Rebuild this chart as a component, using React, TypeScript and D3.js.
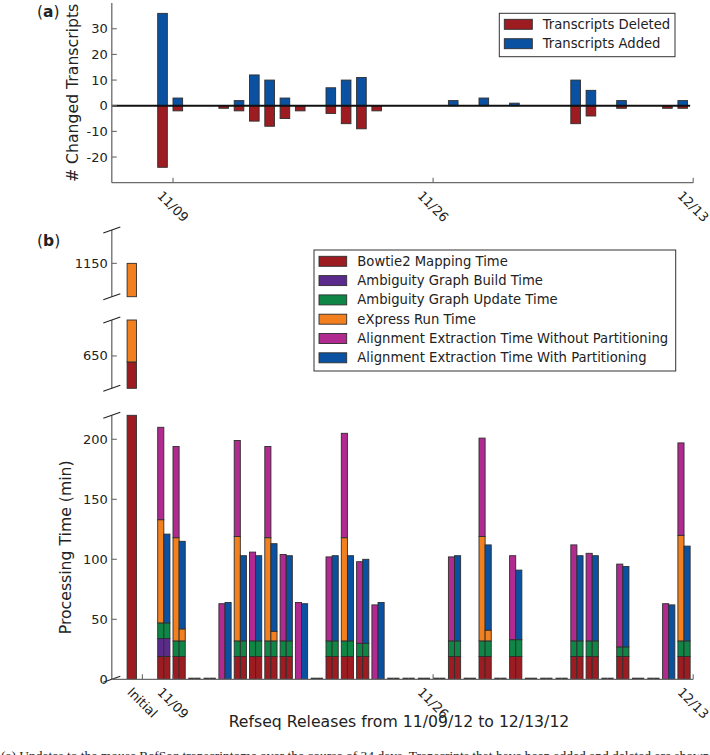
import React, { useEffect, useRef } from "react";
import * as d3 from "d3";

const W = 710;
const H = 755;

// Panel (a): release index -> changed transcripts
const transcriptsDeleted = [-24, -2, 0, 0, -1, -2, -6, -8, -5, -2, 0, -3, -7, -9, -2, 0, 0, 0, 0, 0, 0, 0, 0, 0, 0, 0, 0, -7, -4, 0, -1, 0, 0, -1, -1];
const transcriptsAdded = [36, 3, 0, 0, 0, 2, 12, 10, 3, 0, 0, 7, 10, 11, 0, 0, 0, 0, 0, 2, 0, 3, 0, 1, 0, 0, 0, 10, 6, 0, 2, 0, 0, 0, 2];

// Panel (b): processing times (min) per release
const bowtieTime = [19, 19, 0, 0, 0, 19, 19, 19, 19, 0, 0, 19, 19, 19, 0, 0, 0, 0, 0, 19, 0, 19, 0, 19, 0, 0, 0, 19, 19, 0, 19, 0, 0, 0, 19];
const buildTime = [15, 0, 0, 0, 0, 0, 0, 0, 0, 0, 0, 0, 0, 0, 0, 0, 0, 0, 0, 0, 0, 0, 0, 0, 0, 0, 0, 0, 0, 0, 0, 0, 0, 0, 0];
const updateTime = [13, 13, 0, 0, 0, 13, 13, 13, 13, 0, 0, 13, 13, 11, 0, 0, 0, 0, 0, 13, 0, 13, 0, 14, 0, 0, 0, 13, 13, 0, 8, 0, 0, 0, 13];
const expressNoPart = [86, 86, 0, 0, 0, 87, 0, 86, 0, 0, 0, 0, 86, 0, 0, 0, 0, 0, 0, 0, 0, 87, 0, 0, 0, 0, 0, 0, 0, 0, 0, 0, 0, 0, 88];
const expressPart = [0, 10, 0, 0, 0, 0, 0, 8, 0, 0, 0, 0, 0, 0, 0, 0, 0, 0, 0, 0, 0, 9, 0, 0, 0, 0, 0, 0, 0, 0, 0, 0, 0, 0, 0];
const extractNoPart = [77, 76, 0, 0, 63, 80, 74, 76, 72, 64, 0, 70, 87, 68, 62, 0, 0, 0, 0, 70, 0, 82, 0, 70, 0, 0, 0, 80, 73, 0, 69, 0, 0, 63, 77];
const extractPart = [74, 73, 0, 0, 64, 71, 71, 73, 71, 63, 0, 71, 71, 70, 64, 0, 0, 0, 0, 71, 0, 71, 0, 58, 0, 0, 0, 71, 71, 0, 67, 0, 0, 62, 79];

const initialBowtie = 645;
const initialExpress = 505;
const initialPos = -2;

const xTicksA = [1, 18, 35];
const xTickLabelsA = ["11/09", "11/26", "12/13"];
const xTicksB = [-1, 1, 18, 35];
const xTickLabelsB = ["Initial", "11/09", "11/26", "12/13"];
const yTicksA = [-20, -10, 0, 10, 20, 30];
const yTicksB0 = [0, 50, 100, 150, 200];
const yTicksB1 = [650];
const yTicksB2 = [1150];

const legendA = ["Transcripts Deleted", "Transcripts Added"];
const legendB = [
  "Bowtie2 Mapping Time",
  "Ambiguity Graph Build Time",
  "Ambiguity Graph Update Time",
  "eXpress Run Time",
  "Alignment Extraction Time Without Partitioning",
  "Alignment Extraction Time With Partitioning",
];

const C_RED = "#9c1c22";
const C_BLUE = "#0b51a2";
const C_PURPLE = "#5a2b8c";
const C_GREEN = "#0f8646";
const C_ORANGE = "#f2801f";
const C_MAGENTA = "#b02a8f";
const C_EDGE = "#2e2e2e";
const C_AXIS = "#6a6a6a";
const C_TEXT = "#222";
const FONT = "DejaVu Sans, sans-serif";

export default function App() {
  const ref = useRef<SVGSVGElement | null>(null);

  useEffect(() => {
    const svg = d3.select(ref.current);
    svg.selectAll("*").remove();

    const x = d3.scaleLinear().domain([-3, 35]).range([111.8, 693.2]);
    const slot = x(1) - x(0);

    // ---------- Panel (a) ----------
    const yA = d3.scaleLinear().domain([-30, 40]).range([182.7, 3.1]);
    const gA = svg.append("g");
    const wA = slot * 0.63;
    transcriptsDeleted.forEach((v, i) => {
      if (v === 0) return;
      gA.append("rect").attr("x", x(i)).attr("width", wA)
        .attr("y", yA(0)).attr("height", yA(v) - yA(0))
        .attr("fill", C_RED).attr("stroke", C_EDGE).attr("stroke-width", 0.9);
    });
    transcriptsAdded.forEach((v, i) => {
      if (v === 0) return;
      gA.append("rect").attr("x", x(i)).attr("width", wA)
        .attr("y", yA(v)).attr("height", yA(0) - yA(v))
        .attr("fill", C_BLUE).attr("stroke", C_EDGE).attr("stroke-width", 0.9);
    });
    gA.append("line").attr("x1", x(-3)).attr("x2", x(34.8)).attr("y1", yA(0)).attr("y2", yA(0))
      .attr("stroke", "#111").attr("stroke-width", 2.2);
    // spines
    gA.append("line").attr("x1", x(-3)).attr("x2", x(-3)).attr("y1", yA(40)).attr("y2", yA(-30))
      .attr("stroke", C_AXIS).attr("stroke-width", 1.3);
    gA.append("line").attr("x1", x(-3)).attr("x2", x(35)).attr("y1", yA(-30)).attr("y2", yA(-30))
      .attr("stroke", C_AXIS).attr("stroke-width", 1.3);
    yTicksA.forEach((t) => {
      gA.append("line").attr("x1", x(-3)).attr("x2", x(-3) + 5).attr("y1", yA(t)).attr("y2", yA(t))
        .attr("stroke", C_AXIS).attr("stroke-width", 1.1);
      gA.append("text").attr("x", x(-3) - 4).attr("y", yA(t)).attr("text-anchor", "end")
        .attr("dominant-baseline", "central").attr("font-size", 13).attr("fill", C_TEXT)
        .attr("font-family", FONT).text(String(t));
    });

    const rotLabel = (g: any, px: number, axisY: number, label: string) => {
      const t = g.append("text").attr("text-anchor", "middle").attr("dominant-baseline", "central")
        .attr("font-size", 13).attr("font-family", FONT).attr("fill", C_TEXT).text(label);
      const L = (t.node() as SVGTextElement).getComputedTextLength();
      const size = (L + 10) * 0.7071;
      t.attr("transform", `translate(${px},${axisY + 7 + size / 2}) rotate(45)`);
    };

    xTicksA.forEach((t, k) => {
      gA.append("line").attr("x1", x(t)).attr("x2", x(t)).attr("y1", yA(-30)).attr("y2", yA(-30) - 5)
        .attr("stroke", C_AXIS).attr("stroke-width", 1.1);
      rotLabel(gA, x(t), yA(-30), xTickLabelsA[k]);
    });
    gA.append("text").attr("transform", `translate(72,${(yA(40) + yA(-30)) / 2}) rotate(-90)`)
      .attr("text-anchor", "middle").attr("dominant-baseline", "central").attr("font-size", 15.7)
      .attr("font-family", FONT).attr("fill", C_TEXT).text("# Changed Transcripts");

    // legend (a)
    const la = svg.append("g");
    la.append("rect").attr("x", 499.3).attr("y", 13.3).attr("width", 175.7).attr("height", 43.4)
      .attr("fill", "#fff").attr("stroke", "#333").attr("stroke-width", 1);
    [C_RED, C_BLUE].forEach((c, k) => {
      const cy = 24.3 + k * 19.4;
      la.append("rect").attr("x", 504.3).attr("y", cy - 5).attr("width", 28).attr("height", 10)
        .attr("fill", c).attr("stroke", C_EDGE).attr("stroke-width", 0.9);
      la.append("text").attr("x", 542.7).attr("y", cy).attr("dominant-baseline", "central")
        .attr("font-size", 13.2).attr("font-family", FONT).attr("fill", C_TEXT).text(legendA[k]);
    });

    // ---------- Panel (b) ----------
    const segs = [
      { y: d3.scaleLinear().domain([0, 220]).range([679.3, 415.3]), ticks: yTicksB0 },
      { y: d3.scaleLinear().domain([623, 680]).range([388.3, 320]), ticks: yTicksB1 },
      { y: d3.scaleLinear().domain([1122, 1178]).range([296.7, 230]), ticks: yTicksB2 },
    ];
    const gB = svg.append("g");

    const drawStack = (g: any, y: any, left: number, w: number, parts: { v: number; c: string }[]) => {
      const [d0, d1] = y.domain();
      let base = 0;
      parts.forEach((p) => {
        if (p.v <= 0) return;
        const lo = Math.max(base, d0);
        const hi = Math.min(base + p.v, d1);
        base += p.v;
        if (hi <= lo) return;
        g.append("rect").attr("x", left).attr("width", w).attr("y", y(hi)).attr("height", y(lo) - y(hi))
          .attr("fill", p.c).attr("stroke", C_EDGE).attr("stroke-width", 0.9);
      });
    };

    const wB = slot * 0.4;
    segs.forEach((s, si) => {
      drawStack(gB, s.y, x(initialPos), slot * 0.61, [
        { v: initialBowtie, c: C_RED },
        { v: initialExpress, c: C_ORANGE },
      ]);
      if (si !== 0) return;
      bowtieTime.forEach((_, i) => {
        const left = [
          { v: bowtieTime[i], c: C_RED },
          { v: buildTime[i], c: C_PURPLE },
          { v: updateTime[i], c: C_GREEN },
          { v: expressNoPart[i], c: C_ORANGE },
          { v: extractNoPart[i], c: C_MAGENTA },
        ];
        const right = [
          { v: bowtieTime[i], c: C_RED },
          { v: buildTime[i], c: C_PURPLE },
          { v: updateTime[i], c: C_GREEN },
          { v: expressPart[i], c: C_ORANGE },
          { v: extractPart[i], c: C_BLUE },
        ];
        [left, right].forEach((parts, k) => {
          const lx = x(i) + k * wB;
          const total = d3.sum(parts, (p) => p.v);
          if (total === 0) {
            gB.append("line").attr("x1", lx).attr("x2", lx + wB).attr("y1", s.y(0) - 0.8).attr("y2", s.y(0) - 0.8)
              .attr("stroke", C_EDGE).attr("stroke-width", 1.6);
          } else {
            drawStack(gB, s.y, lx, wB, parts);
          }
        });
      });
    });

    // spines & ticks (b)
    segs.forEach((s) => {
      const [r0, r1] = s.y.range();
      gB.append("line").attr("x1", x(-3)).attr("x2", x(-3)).attr("y1", r0).attr("y2", r1)
        .attr("stroke", C_AXIS).attr("stroke-width", 1.3);
      [r0, r1].forEach((yy) => {
        gB.append("line").attr("x1", x(-3) - 8.5).attr("x2", x(-3) + 8.5).attr("y1", yy + 3).attr("y2", yy - 3)
          .attr("stroke", "#222").attr("stroke-width", 1.2);
      });
      s.ticks.forEach((t) => {
        gB.append("line").attr("x1", x(-3)).attr("x2", x(-3) + 5).attr("y1", s.y(t)).attr("y2", s.y(t))
          .attr("stroke", C_AXIS).attr("stroke-width", 1.1);
        gB.append("text").attr("x", x(-3) - 4).attr("y", s.y(t)).attr("text-anchor", "end")
          .attr("dominant-baseline", "central").attr("font-size", 13).attr("fill", C_TEXT)
          .attr("font-family", FONT).text(String(t));
      });
    });
    const y0 = segs[0].y;
    gB.append("line").attr("x1", x(-3)).attr("x2", x(35)).attr("y1", y0(0)).attr("y2", y0(0))
      .attr("stroke", C_AXIS).attr("stroke-width", 1.3);
    xTicksB.forEach((t, k) => {
      gB.append("line").attr("x1", x(t)).attr("x2", x(t)).attr("y1", y0(0)).attr("y2", y0(0) - 5)
        .attr("stroke", C_AXIS).attr("stroke-width", 1.1);
      rotLabel(gB, x(t), y0(0), xTickLabelsB[k]);
    });
    gB.append("text").attr("transform", `translate(65,${(y0(0) + y0(220)) / 2}) rotate(-90)`)
      .attr("text-anchor", "middle").attr("dominant-baseline", "central").attr("font-size", 15.7)
      .attr("font-family", FONT).attr("fill", C_TEXT).text("Processing Time (min)");
    gB.append("text").attr("x", 399).attr("y", 721).attr("text-anchor", "middle")
      .attr("dominant-baseline", "central").attr("font-size", 15.7)
      .attr("font-family", FONT).attr("fill", C_TEXT).text("Refseq Releases from 11/09/12 to 12/13/12");

    // legend (b)
    const lb = svg.append("g");
    lb.append("rect").attr("x", 314).attr("y", 250).attr("width", 361.7).attr("height", 121)
      .attr("fill", "#fff").attr("stroke", "#333").attr("stroke-width", 1);
    [C_RED, C_PURPLE, C_GREEN, C_ORANGE, C_MAGENTA, C_BLUE].forEach((c, k) => {
      const cy = 261.3 + k * 19.3;
      lb.append("rect").attr("x", 319).attr("y", cy - 5).attr("width", 27.7).attr("height", 10)
        .attr("fill", c).attr("stroke", C_EDGE).attr("stroke-width", 0.9);
      lb.append("text").attr("x", 357.3).attr("y", cy).attr("dominant-baseline", "central")
        .attr("font-size", 13.2).attr("font-family", FONT).attr("fill", C_TEXT).text(legendB[k]);
    });

    // panel letters
    const letter = (yy: number, ch: string) => {
      const t = svg.append("text").attr("x", 37).attr("y", yy).attr("font-size", 15.5)
        .attr("font-family", FONT).attr("fill", C_TEXT);
      t.append("tspan").text("(");
      t.append("tspan").attr("font-weight", "bold").text(ch);
      t.append("tspan").text(")");
    };
    letter(17, "a");
    letter(246, "b");

    // caption (clipped at bottom edge, as in the reference)
    svg.append("text").attr("x", 1).attr("y", 760).attr("font-size", 13.5)
      .attr("font-family", "Liberation Serif, serif").attr("fill", "#222")
      .text("(a) Updates to the mouse RefSeq transcriptome over the course of 34 days. Transcripts that have been added and deleted are shown for each release");
  }, []);

  return (
    <svg ref={ref} width={W} height={H} viewBox={`0 0 ${W} ${H}`}
      style={{ position: "absolute", left: 0, top: 0, background: "#fff" }} />
  );
}
